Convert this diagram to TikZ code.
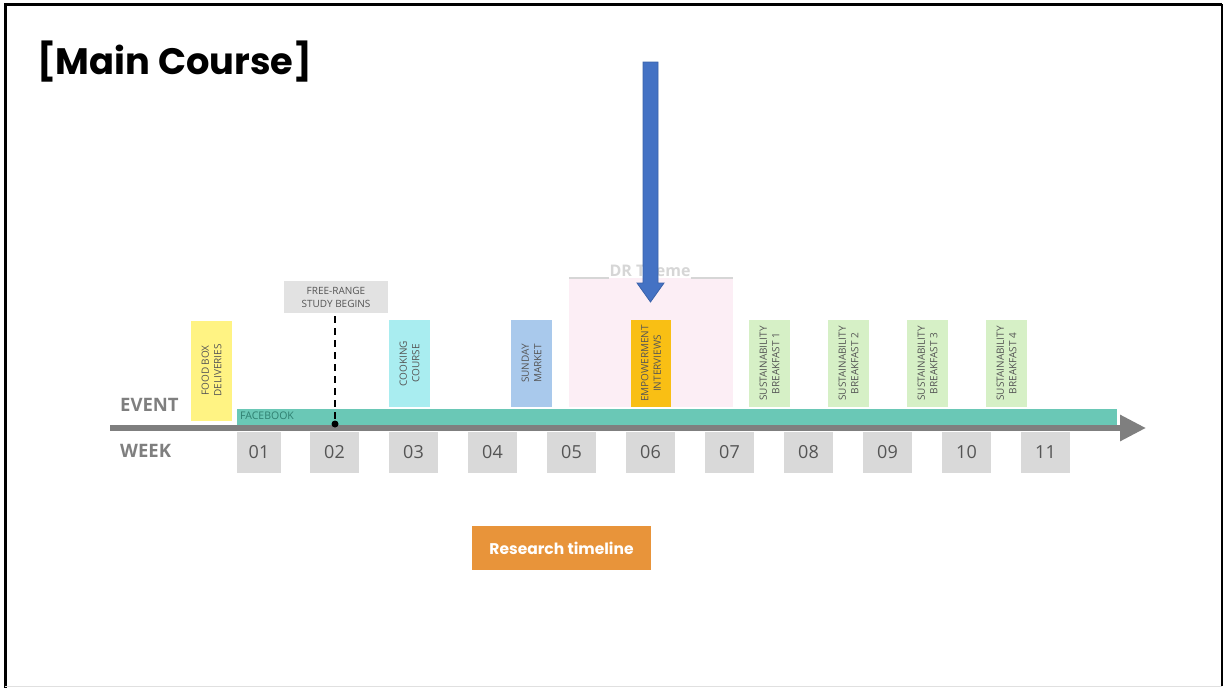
\documentclass[tikz,border=0pt]{standalone}
\usepackage{fontspec}
\setmainfont{Open Sans}
\newfontfamily\titlefont{Poppins}
\usetikzlibrary{arrows.meta}
\definecolor{axisgray}{HTML}{7F7F7F}
\definecolor{boxgray}{HTML}{D9D9D9}
\definecolor{frgray}{HTML}{E2E2E2}
\definecolor{txtgray}{HTML}{555555}
\definecolor{teal1}{HTML}{6AC8B6}
\definecolor{tealtxt}{HTML}{2F7F70}
\definecolor{yellowbox}{HTML}{FFF383}
\definecolor{cyanbox}{HTML}{A9EDF0}
\definecolor{bluebox}{HTML}{A9C9EC}
\definecolor{orangebox}{HTML}{F9BF14}
\definecolor{greenbox}{HTML}{D6F0C6}
\definecolor{pinkbg}{HTML}{FCEEF5}
\definecolor{drgray}{HTML}{D6D6D6}
\definecolor{arrowblue}{HTML}{4472C4}
\definecolor{arrowedge}{HTML}{3A62AA}
\definecolor{restorange}{HTML}{E8943A}
\tikzset{
  evbox/.style={rotate=90, inner sep=0pt, minimum height=41pt, minimum width=87pt,
    align=center, font=\fontsize{10}{12.5}\selectfont, text=txtgray},
  wkbox/.style={fill=boxgray, inner sep=0pt, minimum width=49pt, minimum height=41pt,
    font=\fontsize{18}{20}\selectfont, text=txtgray},
  rowlabel/.style={anchor=west, inner sep=0pt, font=\fontsize{18.5}{20}\selectfont\bfseries, text=axisgray},
}
\begin{document}
\begin{tikzpicture}[x=1pt,y=-1pt]
\useasboundingbox (0,0) rectangle (1224,688);
% frame
\draw[line width=3pt] (5,688) -- (5,4) -- (1222,4);
\draw[line width=1.5pt] (1222,4) -- (1222,686);
\draw[line width=1pt, black!12] (5,686.5) -- (1222,686.5);

% title
\node[anchor=base west, inner sep=0pt, font=\titlefont\bfseries\fontsize{36.8}{40}\selectfont] (title) at (37,74) {[Main Course]};

% DR theme region
\fill[pinkbg] (569,278) rectangle (733,407);
\node[inner sep=0pt, anchor=base, font=\fontsize{16}{18}\selectfont\bfseries, text=drgray] (dr) at (650,276) {DR Theme};
\draw[drgray, line width=2pt] (569,278) -- (dr.west |- 0,278);
\draw[drgray, line width=2pt] (dr.east |- 0,278) -- (733,278);

% teal facebook bar
\fill[teal1] (237,409) rectangle (1117,425);
\node[anchor=west, inner sep=0pt, font=\fontsize{10.5}{11}\selectfont, text=tealtxt] (fb) at (240,416) {FACEBOOK};

% axis
\coordinate (axL) at (110,428);
\coordinate (axR) at (1146,428);
\draw[axisgray, line width=6pt, -{Triangle[length=26pt,width=25pt]}] (axL) -- (axR);

% row labels
\node[rowlabel] (event) at (120,405) {EVENT};
\node[rowlabel] (week) at (120,451) {WEEK};

% event boxes
\node[evbox, fill=yellowbox, minimum width=100pt] (food) at (211.5,370.5) {FOOD BOX\\DELIVERIES};
\node[evbox, fill=cyanbox] (cook) at (409.5,363.5) {COOKING\\COURSE};
\node[evbox, fill=bluebox] (sunday) at (531.5,363.5) {SUNDAY\\MARKET};
\node[evbox, fill=orangebox, minimum height=40pt] (emp) at (651,363.5) {EMPOWERMENT\\INTERVIEWS};
\node[evbox, fill=greenbox] (sb1) at (769.5,363.5) {SUSTAINABILITY\\BREAKFAST 1};
\node[evbox, fill=greenbox] (sb2) at (848.5,363.5) {SUSTAINABILITY\\BREAKFAST 2};
\node[evbox, fill=greenbox] (sb3) at (927.5,363.5) {SUSTAINABILITY\\BREAKFAST 3};
\node[evbox, fill=greenbox] (sb4) at (1006.5,363.5) {SUSTAINABILITY\\BREAKFAST 4};

% week boxes
\node[wkbox, minimum width=44pt] (w01) at (259,452.5) {01};
\node[wkbox] (w02) at (334.5,452.5) {02};
\node[wkbox] (w03) at (413.5,452.5) {03};
\node[wkbox] (w04) at (492.5,452.5) {04};
\node[wkbox] (w05) at (571.5,452.5) {05};
\node[wkbox] (w06) at (650.5,452.5) {06};
\node[wkbox] (w07) at (729.5,452.5) {07};
\node[wkbox] (w08) at (808.5,452.5) {08};
\node[wkbox] (w09) at (887.5,452.5) {09};
\node[wkbox] (w10) at (966.5,452.5) {10};
\node[wkbox] (w11) at (1045.5,452.5) {11};

% free-range study
\node[fill=frgray, inner sep=0pt, minimum width=104pt, minimum height=32pt, align=center,
  font=\fontsize{10}{13}\selectfont, text=txtgray] (fr) at (336,297) {FREE-RANGE\\STUDY BEGINS};
\coordinate (start) at (335,424);
\draw[black, line width=2pt, dash pattern=on 7pt off 5pt] (fr.south -| start) ++(0,3) -- (start);
\fill[black] (start) circle (3.5pt);

% blue arrow
\coordinate (arTop) at (650.5,62);
\coordinate (arTip) at (650.5,302);
\filldraw[fill=arrowblue, draw=arrowedge, line width=0.8pt]
  (643,62) -- (658,62) -- (658,283) -- (664,283) -- (arTip) -- (637,283) -- (643,283) -- cycle;

% research timeline
\node[fill=restorange, inner sep=0pt, minimum width=179pt, minimum height=44pt,
  font=\titlefont\bfseries\fontsize{15.5}{17}\selectfont, text=white] (rt) at (561.5,548) {Research timeline};
\end{tikzpicture}
\end{document}
